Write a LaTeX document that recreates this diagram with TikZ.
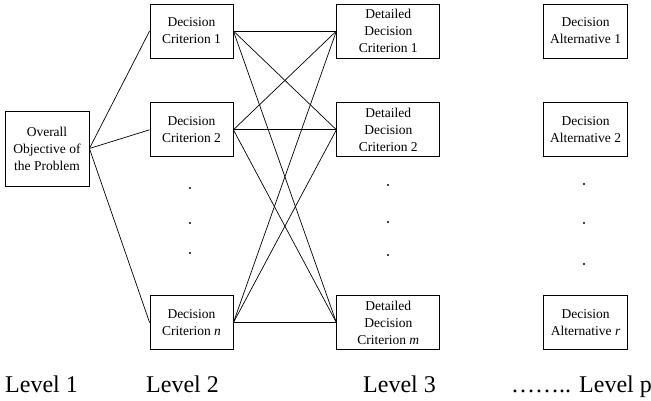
\documentclass[tikz,border=0pt]{standalone}
\usepackage{fontspec}
\setmainfont{Liberation Serif}
\usetikzlibrary{positioning}

\begin{document}
\begin{tikzpicture}[
  x=1pt, y=1pt,
  node distance=44pt and 103pt,
  crit/.style={draw, line width=0.8pt, align=center, inner sep=2pt,
               font=\fontsize{13.5}{17}\selectfont,
               minimum width=83pt, minimum height=54pt},
  detail/.style={crit, minimum width=103pt},
  alt/.style={crit, minimum width=84pt},
  goal/.style={crit, minimum width=84pt, minimum height=75pt},
  link/.style={line width=0.7pt},
  dot/.style={circle, fill, inner sep=0pt, minimum size=2.4pt},
  lvl/.style={font=\fontsize{24}{28}\selectfont, anchor=base west, inner sep=0pt}
]
\useasboundingbox (0,0) rectangle (651,401);

\node[goal] (goal) at (47,252.5) {Overall\\ Objective of\\ the Problem};

\node[crit] (dc1) at (191.5,370) {Decision\\ Criterion 1};
\node[crit, below=of dc1] (dc2) {Decision\\ Criterion 2};
\node[crit, below=138pt of dc2] (dcn) {Decision\\ Criterion \textit{n}};

\node[detail, right=of dc1] (ddc1) {Detailed\\ Decision\\ Criterion 1};
\node[detail, right=of dc2] (ddc2) {Detailed\\ Decision\\ Criterion 2};
\node[detail, right=of dcn] (ddcm) {Detailed\\ Decision\\ Criterion \textit{m}};

\node[alt, right=of ddc1] (da1) {Decision\\ Alternative 1};
\node[alt, right=of ddc2] (da2) {Decision\\ Alternative 2};
\node[alt, right=of ddcm] (dar) {Decision\\ Alternative \textit{r}};

% dots
\foreach \y [count=\i] in {213,178,148} \node[dot] (v2\i) at (190,\y) {};
\foreach \y [count=\i] in {216,179,146} \node[dot] (v3\i) at (388,\y) {};
\foreach \y [count=\i] in {217,178,137} \node[dot] (vp\i) at (584,\y) {};

% edges
\foreach \c in {dc1,dc2,dcn}
  \draw[link] (goal.east) -- (\c.west);
\foreach \c in {dc1,dc2,dcn}
  \foreach \d in {ddc1,ddc2,ddcm}
    \draw[link] (\c.east) -- (\d.west);

% levels
\node[lvl] (lv1) at (5,8) {Level 1};
\node[lvl] (lv2) at (146,8) {Level 2};
\node[lvl] (lv3) at (363,8) {Level 3};
\node[lvl] (lvp) at (511,8) {…….. Level p};

\end{tikzpicture}
\end{document}
